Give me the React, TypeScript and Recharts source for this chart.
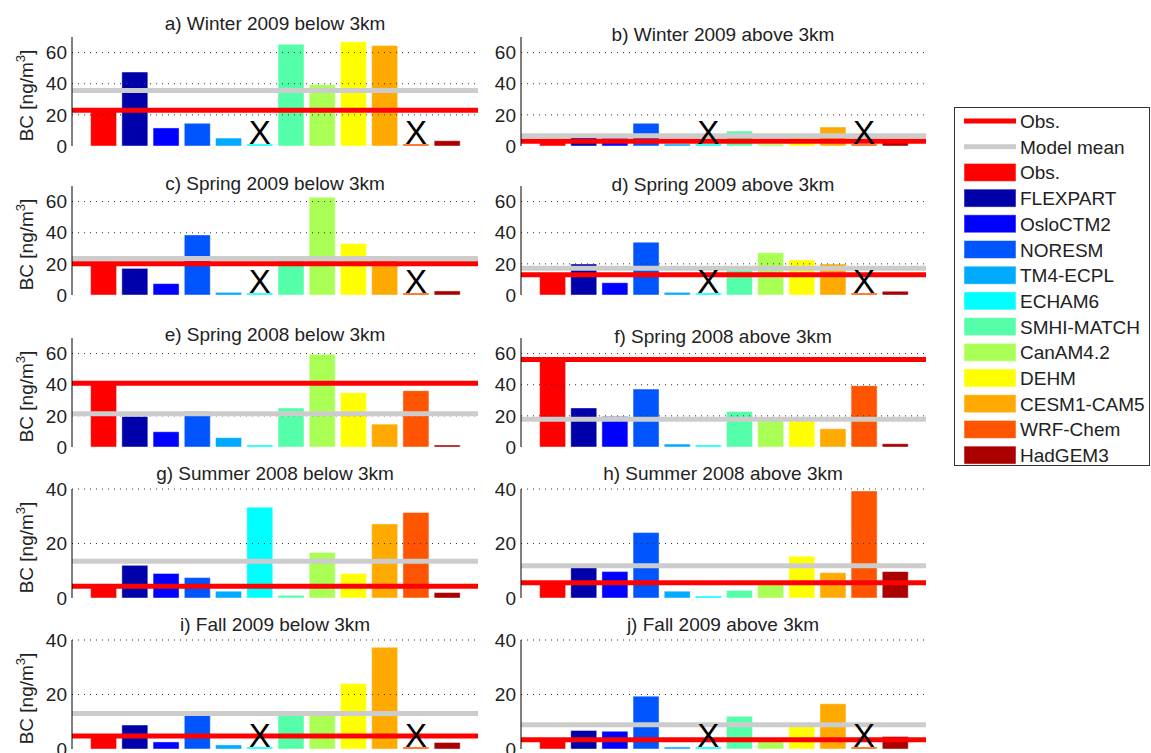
import {
  BarChart,
  Bar,
  Cell,
  XAxis,
  YAxis,
  ReferenceLine,
  LabelList,
} from "recharts";

const MODELS = [
  "Obs.",
  "FLEXPART",
  "OsloCTM2",
  "NORESM",
  "TM4-ECPL",
  "ECHAM6",
  "SMHI-MATCH",
  "CanAM4.2",
  "DEHM",
  "CESM1-CAM5",
  "WRF-Chem",
  "HadGEM3",
];

const COLORS = [
  "#ff0000",
  "#0000aa",
  "#0000ff",
  "#0055ff",
  "#00aaff",
  "#00ffff",
  "#55ffaa",
  "#aaff55",
  "#ffff00",
  "#ffaa00",
  "#ff5500",
  "#aa0000",
];

// BC in ng/m3, null = model has no output for that campaign (drawn as X)
const winter09Below = [23, 47.5, 11.6, 14.6, 5.1, null, 65.4, 39.4, 66.9, 64.5, null, 3.4];
const winter09Above = [3, 5.6, 4.9, 14.6, 1.1, null, 9.6, 1, 4.9, 12.2, null, 2.6];
const spring09Below = [20, 17.1, 7.3, 38.6, 1.7, null, 24, 62.8, 33, 22.5, null, 2.6];
const spring09Above = [13, 19.9, 7.9, 33.9, 1.7, null, 16, 27.2, 22.5, 19.9, null, 2.4];
const spring08Below = [40.8, 19.6, 9.8, 22.8, 6, 1.1, 25.1, 59.6, 34.9, 14.7, 36.2, 0.9];
const spring08Above = [56.2, 25.1, 19.6, 37.2, 1.9, 1.1, 22.8, 17.9, 18.7, 11.7, 39.4, 2.1];
const summer08Below = [4.3, 12, 9, 7.5, 2.5, 33.3, 1, 16.7, 9, 27.2, 31.4, 2];
const summer08Above = [5.6, 11.5, 9.7, 24, 2.5, 0.5, 2.8, 5.9, 15.3, 9.3, 39.3, 9.7];
const fall09Below = [4.8, 8.8, 2.6, 13.9, 1.5, null, 13.3, 12.5, 24, 37.3, null, 2.4];
const fall09Above = [3.4, 6.8, 6.5, 19.4, 0.5, null, 12, 3.2, 8.3, 16.6, null, 4.6];

const PANEL_VALUES = [
  winter09Below,
  winter09Above,
  spring09Below,
  spring09Above,
  spring08Below,
  spring08Above,
  summer08Below,
  summer08Above,
  fall09Below,
  fall09Above,
];

const OBS_LINE = [23, 3, 20.1, 13, 40.9, 56.2, 4.3, 5.6, 4.8, 3.4];
const MEAN_LINE = [35.6, 6.6, 23.4, 17.1, 21.3, 17.9, 13.5, 11.8, 13, 8.9];

const TITLES = [
  "a) Winter 2009 below 3km",
  "b) Winter 2009 above 3km",
  "c) Spring 2009 below 3km",
  "d) Spring 2009 above 3km",
  "e) Spring 2008 below 3km",
  "f) Spring 2008 above 3km",
  "g) Summer 2008 below 3km",
  "h) Summer 2008 above 3km",
  "i) Fall 2009 below 3km",
  "j) Fall 2009 above 3km",
];

const Y_MAX = [70, 70, 70, 40, 40];
const Y_TICKS = [
  [0, 20, 40, 60],
  [0, 20, 40, 60],
  [0, 20, 40, 60],
  [0, 20, 40],
  [0, 20, 40],
];

const FONT = "'Liberation Sans', Arial, sans-serif";
const ROW_TOP = [37, 186, 338, 489, 640];
const PLOT_H = 109;
const TOP_PAD = 30;
const BOTTOM_PAD = 12;
const TITLE_Y_LEFT = [30, 190, 341, 480, 631];
const TITLE_Y_RIGHT = [41, 191, 343, 480, 631];

function renderMark(props: any) {
  const { x, y, width, value } = props;
  if (!value) return null;
  return (
    <text
      x={Number(x) + Number(width) / 2}
      y={Number(y)}
      textAnchor="middle"
      fontSize={33}
      fontFamily={FONT}
      fill="#000"
    >
      {value}
    </text>
  );
}

function Panel({ idx }: { idx: number }) {
  const row = Math.floor(idx / 2);
  const isLeft = idx % 2 === 0;
  const vals = PANEL_VALUES[idx];
  const data = MODELS.map((name, i) => ({
    name,
    value: vals[i] ?? 0,
    mark: vals[i] == null ? "X" : "",
  }));
  const width = isLeft ? 480 : 450;
  return (
    <div
      style={{
        position: "absolute",
        left: isLeft ? 0 : 480,
        top: ROW_TOP[row] - TOP_PAD,
      }}
    >
      <BarChart
        width={width}
        height={TOP_PAD + PLOT_H + BOTTOM_PAD}
        data={data}
        margin={{ top: TOP_PAD, right: isLeft ? 2 : 4, left: 0, bottom: BOTTOM_PAD }}
        barSize={26}
        style={{ overflow: "visible" }}
      >
        <XAxis
          dataKey="name"
          height={0}
          tick={false}
          tickLine={false}
          axisLine={{ stroke: "#000" }}
          padding={{ left: 15.6, right: 15.6 }}
        />
        <YAxis
          type="number"
          domain={[0, Y_MAX[row]]}
          ticks={Y_TICKS[row]}
          width={isLeft ? 72 : 41}
          tickLine={false}
          tickSize={4}
          tickMargin={1}
          axisLine={{ stroke: "#000" }}
          tick={{ fill: "#222", fontSize: 19, fontFamily: FONT }}
        />
        {Y_TICKS[row]
          .filter((t) => t > 0)
          .map((t) => (
            <ReferenceLine
              key={t}
              y={t}
              stroke="#333"
              strokeDasharray="1 5"
              strokeWidth={1}
            />
          ))}
        <Bar dataKey="value" minPointSize={2} isAnimationActive={false}>
          {data.map((d, i) => (
            <Cell
              key={d.name}
              fill={COLORS[i]}
              stroke="rgba(255,255,255,0.45)"
              strokeWidth={1}
            />
          ))}
          <LabelList dataKey="mark" content={renderMark} />
        </Bar>
        <ReferenceLine y={MEAN_LINE[idx]} stroke="#cccccc" strokeWidth={5} />
        <ReferenceLine y={OBS_LINE[idx]} stroke="#ff0000" strokeWidth={5} />
      </BarChart>
    </div>
  );
}

export default function App() {
  const legendTop = 107;
  const rowStep = 25.7;
  const entries = [
    { label: "Obs.", color: "#ff0000", line: true },
    { label: "Model mean", color: "#cccccc", line: true },
    ...MODELS.map((m, i) => ({ label: m, color: COLORS[i], line: false })),
  ];
  return (
    <div
      style={{
        position: "absolute",
        left: 0,
        top: 0,
        width: 1151,
        height: 753,
        background: "#fff",
        fontFamily: FONT,
        overflow: "hidden",
      }}
    >
      {TITLES.map((_, i) => (
        <Panel key={i} idx={i} />
      ))}
      <svg
        width={1151}
        height={753}
        style={{ position: "absolute", left: 0, top: 0, pointerEvents: "none" }}
      >
        {TITLES.map((t, i) => {
          const row = Math.floor(i / 2);
          const isLeft = i % 2 === 0;
          return (
            <text
              key={t}
              x={isLeft ? 275 : 723}
              y={isLeft ? TITLE_Y_LEFT[row] : TITLE_Y_RIGHT[row]}
              textAnchor="middle"
              fontSize={19}
              fontFamily={FONT}
              fill="#222"
            >
              {t}
            </text>
          );
        })}
        {ROW_TOP.map((top) => (
          <text
            key={top}
            transform={`translate(33, ${top + PLOT_H / 2 + 4}) rotate(-90)`}
            textAnchor="middle"
            fontSize={19}
            fontFamily={FONT}
            fill="#222"
          >
            BC [ng/m
            <tspan dy={-8} fontSize={13}>
              3
            </tspan>
            <tspan dy={8}>]</tspan>
          </text>
        ))}
        <rect
          x={954.5}
          y={legendTop + 0.5}
          width={195}
          height={358}
          fill="#fff"
          stroke="#333"
          strokeWidth={1}
        />
        {entries.map((e, i) => {
          const cy = legendTop + 14 + i * rowStep;
          return (
            <g key={i}>
              {e.line ? (
                <rect x={964} y={cy - 2.5} width={52} height={5} fill={e.color} />
              ) : (
                <rect
                  x={964}
                  y={cy - 9}
                  width={52}
                  height={18}
                  fill={e.color}
                  stroke="rgba(255,255,255,0.5)"
                />
              )}
              <text
                x={1020}
                y={cy + 7}
                fontSize={19}
                fontFamily={FONT}
                fill="#222"
              >
                {e.label}
              </text>
            </g>
          );
        })}
      </svg>
    </div>
  );
}
